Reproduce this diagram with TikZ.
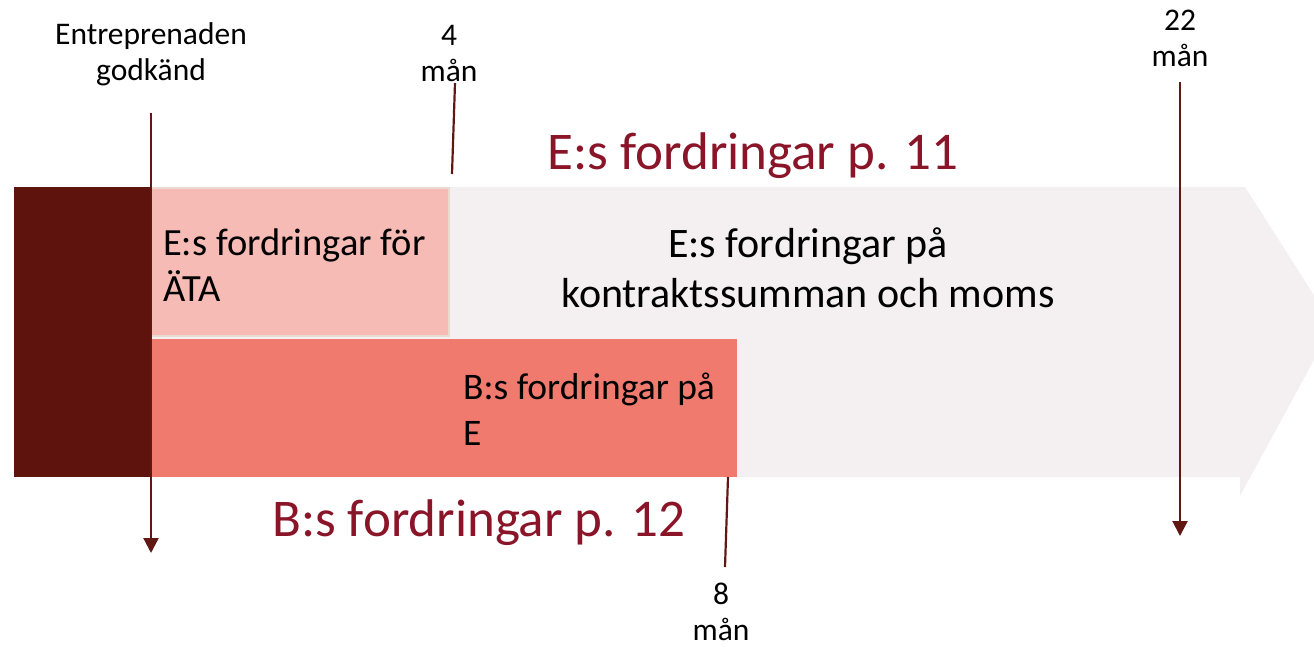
\documentclass[tikz,border=0pt]{standalone}
\usepackage{fontspec}
\setmainfont{Carlito}
\usetikzlibrary{arrows.meta}
\definecolor{bgarrow}{HTML}{F4F0F1}
\definecolor{darkbox}{HTML}{5E130D}
\definecolor{atafill}{HTML}{F6BBB5}
\definecolor{ataedge}{HTML}{EADBD2}
\definecolor{bfill}{HTML}{F07A6D}
\definecolor{titlecol}{HTML}{8A1528}
\definecolor{linecol}{HTML}{611812}
\tikzset{
  box/.style={draw=none, inner sep=0pt, outer sep=0pt},
  smalltext/.style={font=\fontsize{31.5}{36}\selectfont, align=center, inner sep=0pt},
  bigtext/.style={font=\fontsize{53}{60}\selectfont, text=titlecol, inner sep=0pt},
  marker/.style={draw=linecol, line width=2.2pt},
  markerarrow/.style={marker, -{Triangle[width=15pt,length=15pt]}}
}
\begin{document}
\begin{tikzpicture}[x=1pt,y=-1pt]
\useasboundingbox (0,0) rectangle (1314,646);
% big background arrow
\begin{scope}
\clip (0,0) rectangle (1314,646);
\fill[bgarrow] (14,187) -- (1245,187) -- (1333,325) -- (1240,496) -- (1240,477) -- (14,477) -- cycle;
\end{scope}
% boxes
\node[box, fill=darkbox, minimum width=136pt, minimum height=290pt] (dark) at (82,332) {};
\node[box, fill=atafill, draw=ataedge, line width=2pt, minimum width=298pt, minimum height=148pt] (ata) at (300,262) {};
\node[box, fill=bfill, minimum width=587pt, minimum height=138pt] (bfe) at (443.5,408) {};
% texts in boxes
\node[font=\fontsize{38.5}{46}\selectfont, inner sep=0pt, anchor=west, align=left] (atatext) at (163,265) {E:s fordringar för\\ÄTA};
\node[font=\fontsize{37.5}{46}\selectfont, inner sep=0pt, anchor=west, align=left] (btext) at (463,409) {B:s fordringar på\\E};
\node[font=\fontsize{42}{50}\selectfont, inner sep=0pt, align=center] (etext) at (808,268) {E:s fordringar på\\kontraktssumman och moms};
% titles
\node[bigtext, anchor=base] (t11) at (753,169) {E:s fordringar p. 11};
\node[bigtext, anchor=base] (t12) at (479,536) {B:s fordringar p. 12};
% labels
\node[smalltext] (lstart) at (151,54) {Entreprenaden\\godkänd};
\node[smalltext] (l4) at (449,53.5) {4\\mån};
\node[smalltext] (l22) at (1180,38) {22\\mån};
\node[smalltext] (l8) at (721,612) {8\\mån};
% marker lines
\coordinate (s1) at (151,113);
\coordinate (s2) at (151,553);
\draw[markerarrow] (s1) -- (s2);
\coordinate (f1) at (455,83);
\coordinate (f2) at (452,174);
\draw[marker] (f1) -- (f2);
\coordinate (w1) at (1180,82);
\coordinate (w2) at (1180,536);
\draw[markerarrow] (w1) -- (w2);
\coordinate (e1) at (728,477);
\coordinate (e2) at (725,567);
\draw[marker] (e1) -- (e2);
\end{tikzpicture}
\end{document}
